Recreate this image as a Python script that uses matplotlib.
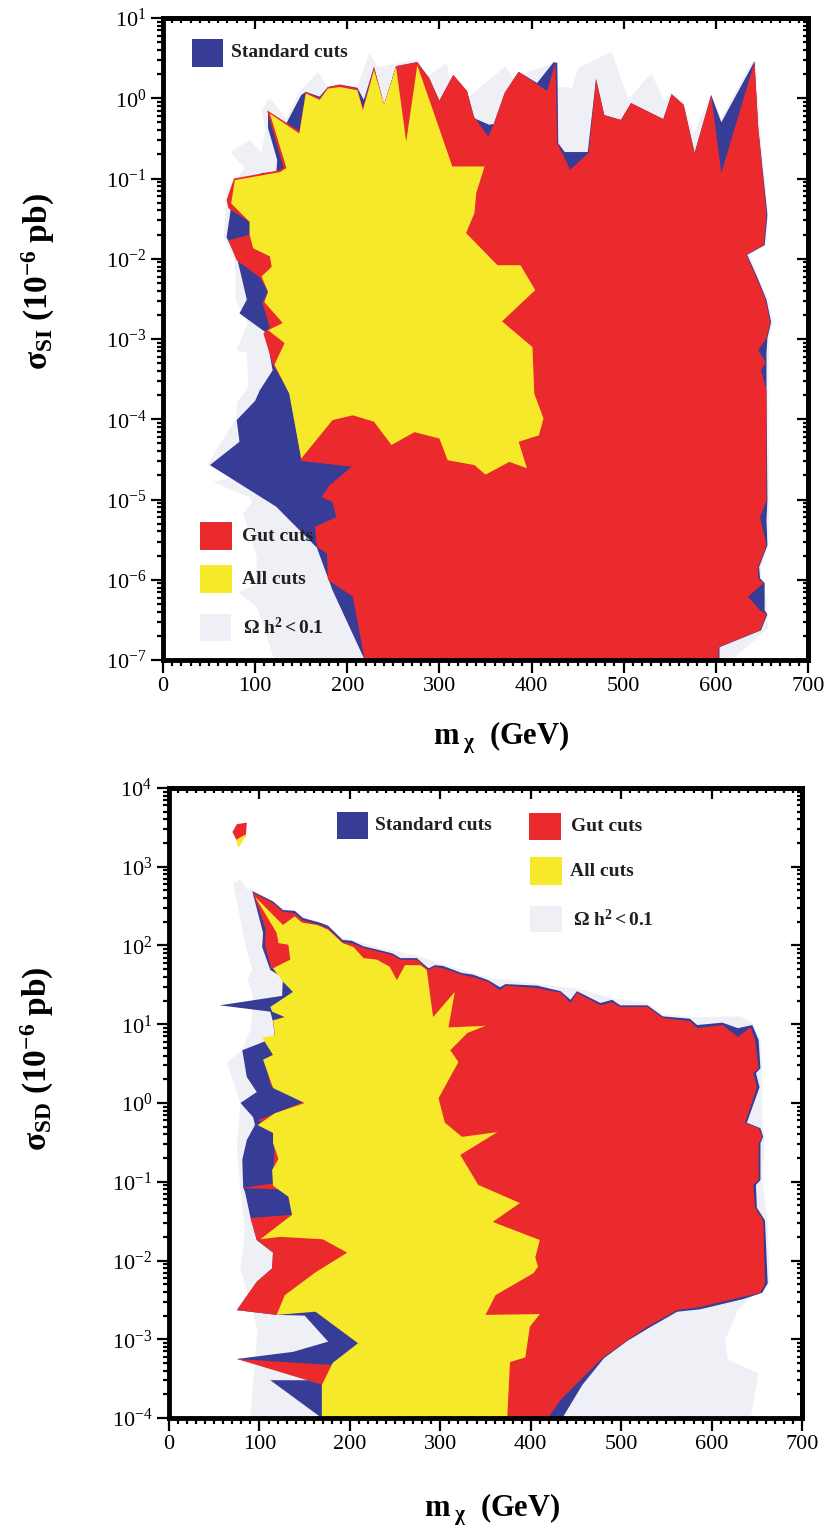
import matplotlib
matplotlib.use('Agg')
import matplotlib.pyplot as plt
import numpy as np
from matplotlib.patches import Rectangle
from matplotlib.ticker import MultipleLocator, LogLocator, NullFormatter, LogFormatterMathtext

plt.rcParams['font.family'] = 'serif'
plt.rcParams['font.serif'] = ['Liberation Serif', 'DejaVu Serif']
plt.rcParams['mathtext.fontset'] = 'custom'
plt.rcParams['mathtext.rm'] = 'Liberation Serif'
plt.rcParams['mathtext.it'] = 'Liberation Serif:italic'
plt.rcParams['mathtext.bf'] = 'Liberation Serif:bold'

BLUE = '#373c97'
RED = '#eb2a2e'
YELLOW = '#f6e92a'
GRAY = '#eef0f5'

# ---------------- spin-independent panel: mass (GeV) and log10(sigma / 1e-6 pb)
si_gray_m = [121, 102, 81, 100, 102, 87, 97, 94, 54, 76, 48, 80, 80, 92, 92, 91, 80, 92, 79, 78,
             66, 68, 70, 89, 73, 94, 107, 111, 107, 116, 134, 148, 168, 179, 192, 211, 224, 233, 253, 276,
             286, 308, 311, 332, 372, 381, 397, 425, 428, 444, 451, 487, 505, 530, 545, 552, 565, 576, 595, 606,
             639, 643, 648, 657, 655, 637, 646, 657, 662, 658, 657, 658, 657, 649, 649, 655, 657, 617]
si_gray_lg = [-7.0, -6.34, -6.15, -6.07, -5.72, -5.17, -5.04, -4.97, -4.78, -4.73, -4.57, -3.98, -3.80, -3.61, -3.39, -3.17, -3.14, -2.80, -2.51, -2.02,
              -1.73, -1.43, -1.14, -0.87, -0.67, -0.52, -0.68, -0.40, -0.15, 0.00, -0.25, 0.08, 0.33, 0.14, 0.18, 0.15, 0.56, 0.39, 0.43, 0.48,
              0.26, 0.44, 0.25, 0.02, 0.40, 0.23, 0.33, 0.45, 0.14, 0.13, 0.38, 0.58, -0.01, 0.31, -0.05, 0.08, -0.06, -0.43, 0.04, -0.25,
              0.45, 0.48, -0.36, -1.45, -1.83, -1.95, -2.23, -2.51, -2.79, -2.99, -3.64, -5.01, -5.57, -5.84, -6.00, -6.25, -6.60, -7.0]

si_blue_m = [219, 184, 167, 123, 51, 83, 80, 100, 105, 119, 116, 113, 83, 91, 81, 69, 73, 76, 108, 123,
             124, 114, 114, 134, 150, 155, 170, 179, 192, 211, 218, 229, 240, 253, 276, 289, 300, 315, 330, 338,
             354, 359, 371, 386, 406, 424, 428, 429, 436, 461, 470, 479, 497, 508, 543, 552, 565, 577, 595, 606,
             642, 646, 656, 653, 634, 645, 655, 660, 656, 655, 655, 656, 655, 656, 647, 648, 653, 653, 656, 649,
             604, 604]
si_blue_lg = [-7.0, -6.13, -5.60, -5.09, -4.57, -4.28, -4.01, -3.77, -3.64, -3.39, -3.20, -2.93, -2.68, -2.51, -2.02, -1.73, -1.43, -1.08, -0.93, -0.92,
              -0.77, -0.37, -0.17, -0.31, 0.04, 0.08, 0.02, 0.14, 0.17, 0.13, -0.02, 0.39, -0.08, 0.40, 0.45, 0.25, -0.03, 0.29, 0.09, -0.25,
              -0.33, -0.32, 0.07, 0.33, 0.19, 0.45, 0.44, -0.56, -0.67, -0.67, 0.24, -0.21, -0.27, -0.06, -0.26, 0.05, -0.08, -0.68, 0.04, -0.30,
              0.46, -0.36, -1.45, -1.83, -1.95, -2.23, -2.51, -2.79, -2.99, -3.17, -3.64, -5.01, -5.26, -5.57, -5.84, -5.98, -6.04, -6.38, -6.43, -6.63,
              -6.84, -7.0]

si_red_m = [219, 206, 179, 178, 167, 165, 188, 184, 172, 181, 205, 150, 139, 119, 109, 116, 108, 114, 105, 80,
            71, 94, 94, 71, 69, 77, 125, 131, 113, 148, 155, 170, 179, 192, 211, 217, 229, 240, 253, 276,
            289, 300, 315, 330, 337, 353, 359, 371, 386, 417, 426, 428, 442, 462, 470, 479, 497, 508, 543, 552,
            565, 577, 595, 606, 642, 646, 655, 652, 633, 644, 654, 659, 655, 646, 654, 649, 655, 655, 648, 655,
            646, 646, 652, 635, 648, 655, 648, 603, 603]
si_red_lg = [-7.0, -6.21, -6.00, -5.67, -5.59, -5.34, -5.22, -5.03, -4.97, -4.82, -4.59, -4.52, -3.70, -3.31, -2.93, -2.86, -2.55, -2.41, -2.23, -2.02,
             -1.77, -1.70, -1.54, -1.37, -1.27, -1.00, -0.90, -0.87, -0.15, -0.41, 0.08, 0.00, 0.14, 0.17, 0.12, -0.12, 0.39, -0.08, 0.40, 0.45,
             0.25, -0.03, 0.29, 0.09, -0.22, -0.48, -0.32, 0.07, 0.33, 0.09, 0.44, -0.56, -0.89, -0.68, 0.24, -0.21, -0.27, -0.06, -0.26, 0.05,
             -0.08, -0.68, 0.04, -0.93, 0.45, -0.36, -1.45, -1.83, -1.95, -2.23, -2.51, -2.79, -2.99, -3.14, -3.29, -3.39, -3.64, -5.01, -5.22, -5.57,
             -5.84, -5.98, -6.04, -6.21, -6.38, -6.43, -6.63, -6.84, -7.0]

si_yellow_m = [78, 127, 134, 116, 148, 155, 170, 179, 192, 211, 217, 229, 240, 253, 264, 276, 293, 314, 349, 340,
               338, 329, 363, 388, 404, 368, 401, 403, 413, 408, 386, 395, 376, 350, 338, 309, 300, 273, 248, 229,
               206, 184, 150, 137, 121, 132, 114, 130, 110, 114, 107, 118, 116, 98, 94, 94, 74]
si_yellow_lg = [-1.02, -0.92, -0.87, -0.19, -0.44, 0.06, -0.02, 0.12, 0.14, 0.10, -0.15, 0.35, -0.08, 0.39, -0.54, 0.41, -0.15, -0.85, -0.85, -1.18,
                -1.43, -1.68, -2.08, -2.08, -2.39, -2.78, -3.10, -3.68, -3.99, -4.20, -4.28, -4.61, -4.53, -4.69, -4.57, -4.51, -4.24, -4.16, -4.32, -4.03,
                -3.95, -4.01, -4.49, -3.68, -3.32, -3.05, -2.89, -2.80, -2.54, -2.41, -2.22, -2.10, -1.97, -1.87, -1.70, -1.54, -1.31]

# ---------------- spin-dependent panel
sd_gray_m = [90, 92, 98, 79, 84, 79, 75, 79, 64, 81, 90, 93, 87, 92, 84, 71, 79, 87, 92, 126,
             148, 192, 233, 274, 303, 353, 407, 451, 490, 529, 546, 576, 632, 645, 654, 656, 656, 656, 659, 656,
             662, 664, 646, 629, 615, 618, 652, 643]
sd_gray_lg = [-4.0, -3.67, -2.88, -2.10, -1.61, -1.10, -0.56, 0.00, 0.52, 0.67, 0.93, 1.35, 1.56, 1.69, 2.03, 2.79, 2.84, 2.70, 2.72, 2.48,
              2.37, 2.10, 1.97, 1.87, 1.76, 1.59, 1.51, 1.45, 1.33, 1.27, 1.13, 1.09, 1.10, 1.02, 0.80, 0.44, 0.20, -0.25, -0.43, -0.98,
              -1.49, -2.29, -2.44, -2.63, -3.01, -3.26, -3.43, -4.0]

sd_blue_m = [92, 104, 103, 112, 126, 125, 56, 112, 115, 117, 101, 81, 86, 97, 79, 93, 95, 86, 81, 82,
             84, 90, 97, 115, 114, 97, 75, 119, 150, 176, 137, 75, 165, 112, 169, 435, 457, 481, 507, 530,
             562, 587, 635, 656, 662, 659, 650, 649, 654, 654, 657, 654, 639, 653, 649, 654, 652, 645, 629, 612,
             584, 576, 546, 529, 499, 490, 477, 451, 444, 433, 407, 372, 366, 353, 336, 324, 303, 294, 287, 274,
             256, 247, 233, 215, 202, 192, 176, 167, 148, 139, 126, 115]
sd_blue_lg = [2.69, 2.16, 1.98, 1.69, 1.59, 1.36, 1.24, 1.16, 1.03, 0.84, 0.76, 0.67, 0.33, 0.14, 0.00, -0.18, -0.28, -0.47, -0.72, -1.07,
              -1.13, -1.45, -1.74, -1.90, -2.10, -2.27, -2.63, -2.69, -2.70, -3.03, -3.16, -3.25, -3.52, -3.52, -4.0, -4.0, -3.58, -3.24, -3.02, -2.86,
              -2.65, -2.62, -2.49, -2.41, -2.29, -1.49, -1.33, -1.04, -0.98, -0.51, -0.43, -0.32, -0.25, 0.20, 0.38, 0.44, 0.80, 0.99, 0.95, 1.02,
              0.99, 1.07, 1.10, 1.24, 1.24, 1.31, 1.27, 1.42, 1.31, 1.42, 1.49, 1.51, 1.47, 1.56, 1.63, 1.65, 1.74, 1.75, 1.71, 1.84,
              1.84, 1.90, 1.94, 1.99, 2.06, 2.07, 2.25, 2.29, 2.35, 2.44, 2.45, 2.56]

sd_red_m = [93, 107, 106, 113, 136, 140, 112, 131, 116, 118, 114, 106, 112, 148, 98, 114, 117, 116, 115, 81,
            128, 145, 136, 90, 97, 115, 114, 97, 75, 119, 165, 213, 184, 75, 170, 173, 419, 433, 458, 480,
            507, 529, 562, 587, 635, 654, 659, 657, 648, 646, 652, 652, 656, 652, 637, 650, 646, 652, 648, 643,
            629, 612, 584, 576, 546, 529, 499, 490, 477, 451, 444, 433, 407, 372, 366, 353, 336, 324, 303, 294,
            287, 274, 256, 247, 233, 215, 202, 192, 176, 167, 148, 139, 126, 115]
sd_red_lg = [2.67, 2.20, 2.01, 1.71, 1.63, 1.37, 1.22, 1.13, 1.03, 0.80, 0.61, 0.55, 0.23, 0.01, -0.22, -0.28, -0.47, -0.72, -1.02, -1.08,
             -1.10, -1.30, -1.42, -1.46, -1.74, -1.90, -2.10, -2.27, -2.63, -2.69, -2.63, -3.05, -3.33, -3.25, -3.58, -4.0, -4.0, -3.77, -3.48, -3.23,
             -3.01, -2.84, -2.63, -2.59, -2.46, -2.41, -2.29, -1.49, -1.33, -1.04, -0.98, -0.51, -0.43, -0.32, -0.25, 0.20, 0.38, 0.44, 0.80, 0.96,
             0.84, 0.99, 0.95, 1.04, 1.08, 1.22, 1.22, 1.28, 1.24, 1.40, 1.27, 1.40, 1.46, 1.49, 1.43, 1.54, 1.60, 1.63, 1.71, 1.73,
             1.69, 1.82, 1.82, 1.88, 1.92, 1.97, 2.03, 2.04, 2.22, 2.26, 2.32, 2.41, 2.43, 2.54]

sd_yellow_m = [95, 126, 139, 147, 164, 176, 192, 204, 215, 230, 244, 252, 261, 278, 285, 292, 316, 309, 350, 330,
               311, 320, 298, 305, 324, 363, 322, 342, 388, 358, 410, 405, 408, 403, 361, 350, 410, 399, 394, 377,
               374, 169, 169, 181, 209, 162, 119, 128, 162, 197, 170, 123, 101, 136, 132, 115, 114, 121, 115, 115,
               98, 117, 150, 115, 104, 115, 103, 117, 115, 128, 114, 112, 137, 126, 115, 134, 132, 121, 119]
sd_yellow_lg = [2.62, 2.26, 2.37, 2.29, 2.26, 2.20, 2.03, 1.98, 1.84, 1.82, 1.73, 1.56, 1.75, 1.75, 1.69, 1.09, 1.41, 0.96, 0.98, 0.89,
                0.67, 0.52, 0.06, -0.25, -0.43, -0.37, -0.66, -1.04, -1.27, -1.51, -1.74, -1.96, -2.08, -2.16, -2.44, -2.69, -2.68, -2.84, -3.23, -3.29,
                -4.0, -4.0, -3.58, -3.30, -3.05, -2.65, -2.69, -2.44, -2.15, -1.90, -1.73, -1.70, -1.73, -1.42, -1.19, -1.05, -0.85, -0.71, -0.51, -0.38,
                -0.28, -0.13, 0.00, 0.19, 0.55, 0.61, 0.83, 0.86, 1.05, 1.09, 1.16, 1.22, 1.41, 1.54, 1.71, 1.82, 2.01, 2.03, 2.16]

# small isolated island near 75 GeV, 10^3.4
sd_island_red_m = [70, 75, 86, 85, 76]
sd_island_red_lg = [3.44, 3.54, 3.56, 3.39, 3.31]
sd_island_yellow_m = [74, 86, 77]
sd_island_yellow_lg = [3.34, 3.42, 3.24]

legend_names = ['Standard cuts', 'Gut cuts', 'All cuts', r'$\mathbf{\Omega\ h^2 < 0.1}$']
legend_colors = [BLUE, RED, YELLOW, GRAY]


def draw_regions(ax, layers):
    for m, lg, color in layers:
        ax.fill(m, 10.0 ** np.asarray(lg), color=color, lw=0)


def style_axes(ax, ylo, yhi):
    ax.set_xlim(0, 700)
    ax.set_yscale('log')
    ax.set_ylim(10.0 ** ylo, 10.0 ** yhi)
    ax.xaxis.set_major_locator(MultipleLocator(100))
    ax.xaxis.set_minor_locator(MultipleLocator(10))
    ax.yaxis.set_major_locator(LogLocator(base=10, numticks=20))
    ax.yaxis.set_major_formatter(LogFormatterMathtext())
    ax.yaxis.set_minor_locator(LogLocator(base=10, subs=np.arange(2, 10), numticks=20))
    ax.yaxis.set_minor_formatter(NullFormatter())
    for s in ax.spines.values():
        s.set_linewidth(3.5)
    ax.tick_params(which='both', direction='out', top=False, right=False,
                   labelsize=16, width=1.6, pad=3)
    ax.tick_params(which='major', length=9)
    ax.tick_params(which='minor', length=4.5)

    top = ax.secondary_xaxis('top')
    top.xaxis.set_major_locator(MultipleLocator(100))
    top.xaxis.set_minor_locator(MultipleLocator(10))
    top.tick_params(which='both', direction='in', labeltop=False, width=1.6)
    top.tick_params(which='major', length=8)
    top.tick_params(which='minor', length=3.5)
    top.spines['top'].set_linewidth(3.5)

    right = ax.secondary_yaxis('right')
    right.yaxis.set_major_locator(LogLocator(base=10, numticks=20))
    right.yaxis.set_minor_locator(LogLocator(base=10, subs=np.arange(2, 10), numticks=20))
    right.yaxis.set_minor_formatter(NullFormatter())
    right.tick_params(which='both', direction='in', labelright=False, width=1.6)
    right.tick_params(which='major', length=8)
    right.tick_params(which='minor', length=3.5)
    right.spines['right'].set_linewidth(3.5)


def add_legend(ax, boxes):
    for (x, y, w, h, tx), name, color in zip(boxes, legend_names, legend_colors):
        ax.add_patch(Rectangle((x, y), w, h, transform=ax.transAxes, color=color, lw=0))
        ax.text(tx, y + h / 2, name, transform=ax.transAxes, fontsize=14,
                fontweight='bold', va='center', ha='left', color='#231f20')


fig = plt.figure(figsize=(8.29, 15.39), dpi=100)

ax1 = fig.add_axes([0.1966, 0.5711, 0.7780, 0.4172])
draw_regions(ax1, [(si_gray_m, si_gray_lg, GRAY), (si_blue_m, si_blue_lg, BLUE),
                   (si_red_m, si_red_lg, RED), (si_yellow_m, si_yellow_lg, YELLOW)])
style_axes(ax1, -7, 1)
add_legend(ax1, [(0.045, 0.924, 0.048, 0.043, 0.105),
                 (0.057, 0.171, 0.050, 0.044, 0.122),
                 (0.057, 0.104, 0.050, 0.044, 0.122),
                 (0.057, 0.030, 0.048, 0.042, 0.124)])
ax1.set_ylabel(r'$\mathbf{σ_{SI}\ (10^{-6}\ pb)}$', fontsize=24)
ax1.yaxis.set_label_coords(-0.165, 0.59)
ax1.set_xlabel(r'$\mathbf{m_{\ χ}\ \ (GeV)}$', fontsize=22)
ax1.xaxis.set_label_coords(0.525, -0.093)

ax2 = fig.add_axes([0.2039, 0.0786, 0.7636, 0.4094])
draw_regions(ax2, [(sd_gray_m, sd_gray_lg, GRAY), (sd_blue_m, sd_blue_lg, BLUE),
                   (sd_red_m, sd_red_lg, RED), (sd_yellow_m, sd_yellow_lg, YELLOW),
                   (sd_island_red_m, sd_island_red_lg, RED),
                   (sd_island_yellow_m, sd_island_yellow_lg, YELLOW)])
style_axes(ax2, -4, 4)
add_legend(ax2, [(0.265, 0.919, 0.049, 0.043, 0.325),
                 (0.569, 0.917, 0.050, 0.043, 0.635),
                 (0.570, 0.846, 0.050, 0.044, 0.633),
                 (0.571, 0.771, 0.049, 0.042, 0.638)])
ax2.set_ylabel(r'$\mathbf{σ_{SD}\ (10^{-6}\ pb)}$', fontsize=24)
ax2.yaxis.set_label_coords(-0.178, 0.57)
ax2.set_xlabel(r'$\mathbf{m_{\ χ}\ \ (GeV)}$', fontsize=22)
ax2.xaxis.set_label_coords(0.51, -0.117)

fig.savefig('out.png', dpi=100)
